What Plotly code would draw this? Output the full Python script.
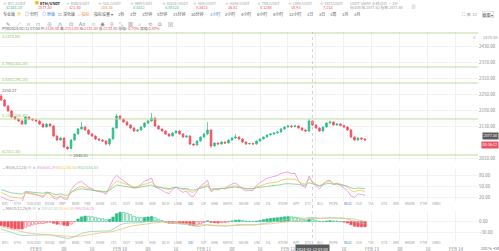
import plotly.graph_objects as go
import pandas as pd

W, H = 499, 251

# ---------------- data ----------------
start_time = "2024-02-08 14:00"
opens = [2242.5, 2227.5, 2205.0, 2186.3, 2163.8, 2156.3, 2148.8, 2137.5, 2163.8, 2156.3,
         2152.5, 2148.8, 2137.5, 2126.3, 2137.5, 2130.0, 2092.5, 2077.5, 2085.0, 2051.3,
         2045.0, 2077.5, 2100.0, 2118.8, 2126.3, 2115.0, 2100.0, 2092.5, 2081.3, 2077.5,
         2073.8, 2062.5, 2081.3, 2122.5, 2167.5, 2156.3, 2145.0, 2133.8, 2122.5, 2111.3,
         2115.0, 2126.3, 2141.3, 2148.8, 2160.0, 2130.0, 2118.8, 2111.3, 2100.0, 2092.5,
         2103.8, 2111.3, 2100.0, 2088.8, 2092.5, 2062.5, 2058.8, 2073.8, 2088.8, 2100.0,
         2115.0, 2055.0, 2066.3, 2062.5, 2070.0, 2066.3, 2077.5, 2085.0, 2088.8, 2081.3,
         2070.0, 2062.5, 2064.4, 2062.5, 2073.8, 2081.3, 2088.8, 2096.3, 2100.0, 2103.8,
         2107.5, 2118.8, 2126.3, 2130.0, 2128.1, 2130.0, 2122.5, 2115.0, 2111.3, 2148.8,
         2133.8, 2122.5, 2111.3, 2126.3, 2141.3, 2145.0, 2133.8, 2137.5, 2131.9, 2126.3,
         2115.0, 2088.8, 2077.5, 2085.0, 2081.3]
closes = [2227.5, 2205.0, 2186.3, 2163.8, 2156.3, 2148.8, 2137.5, 2163.8, 2156.3, 2152.5,
          2148.8, 2137.5, 2126.3, 2137.5, 2130.0, 2092.5, 2077.5, 2085.0, 2051.3, 2045.0,
          2077.5, 2100.0, 2118.8, 2126.3, 2115.0, 2100.0, 2092.5, 2081.3, 2077.5, 2073.8,
          2062.5, 2081.3, 2122.5, 2167.5, 2156.3, 2145.0, 2133.8, 2122.5, 2111.3, 2115.0,
          2126.3, 2141.3, 2148.8, 2160.0, 2130.0, 2118.8, 2111.3, 2100.0, 2092.5, 2103.8,
          2111.3, 2100.0, 2088.8, 2092.5, 2062.5, 2058.8, 2073.8, 2088.8, 2100.0, 2115.0,
          2055.0, 2066.3, 2062.5, 2070.0, 2066.3, 2077.5, 2085.0, 2088.8, 2081.3, 2070.0,
          2062.5, 2064.4, 2062.5, 2073.8, 2081.3, 2088.8, 2096.3, 2100.0, 2103.8, 2107.5,
          2118.8, 2126.3, 2130.0, 2128.1, 2130.0, 2122.5, 2115.0, 2111.3, 2148.8, 2133.8,
          2122.5, 2111.3, 2126.3, 2141.3, 2145.0, 2133.8, 2137.5, 2131.9, 2126.3, 2115.0,
          2088.8, 2077.5, 2085.0, 2081.3, 2077.5]
highs = [2250.27, 2230, 2208, 2189, 2168, 2160, 2152, 2167, 2166, 2159,
         2155, 2151, 2140, 2141, 2140, 2133, 2095, 2089, 2087, 2054,
         2080, 2103, 2122, 2145, 2129, 2118, 2103, 2095, 2084, 2080,
         2076, 2084, 2125, 2175, 2170, 2159, 2148, 2136, 2125, 2118,
         2129, 2144, 2152, 2178.8, 2163, 2133, 2121, 2114, 2103, 2107,
         2114, 2114, 2103, 2096, 2095, 2065, 2076, 2091, 2103, 2145,
         2118, 2069, 2069, 2073, 2072, 2080, 2088, 2100, 2091, 2084,
         2073, 2067, 2067, 2076, 2084, 2091, 2099, 2103, 2107, 2110,
         2122, 2129, 2133, 2133, 2134, 2133, 2125, 2118, 2156.3, 2151,
         2136, 2125, 2129, 2144, 2150, 2147, 2140, 2140, 2134, 2129,
         2118, 2091, 2088, 2088, 2084]
lows = [2224, 2202, 2183, 2160, 2152, 2145, 2134, 2135, 2153, 2150,
        2146, 2134, 2123, 2124, 2127, 2089, 2073, 2075, 2048, 2040.01,
        2043, 2075, 2097, 2116, 2112, 2097, 2089, 2078, 2074, 2070,
        2058, 2055, 2079, 2120, 2153, 2142, 2131, 2119, 2108, 2108,
        2112, 2123, 2138, 2146, 2127, 2116, 2108, 2097, 2089, 2090,
        2101, 2097, 2086, 2086, 2059, 2055, 2056, 2071, 2086, 2097,
        2047.5, 2052, 2060, 2060, 2063, 2064, 2075, 2082, 2078, 2067,
        2059, 2060, 2060, 2060, 2071, 2079, 2086, 2094, 2097, 2101,
        2105, 2116, 2124, 2122, 2125, 2120, 2112, 2108, 2109, 2131,
        2120, 2108, 2109, 2124, 2139, 2131, 2131, 2129, 2123, 2112,
        2085, 2074, 2074, 2078, 2075]

level_prices = [2478.80, 2351.30, 2291.20, 2156.40, 2021.30]
level_labels = ["1(2478.80)", "0.786(2351.30)", "0.618(2291.20)", "0.236(2156.40)", "0(2021.30)"]
price_ticks = [2010, 2130, 2190, 2250, 2310, 2370, 2430]
rsi_ticks = [20, 50, 80]
tick_times = ["2024-02-09 00:00", "2024-02-09 08:00", "2024-02-09 16:00",
              "2024-02-10 00:00", "2024-02-10 08:00", "2024-02-10 16:00",
              "2024-02-11 00:00", "2024-02-11 08:00", "2024-02-11 16:00",
              "2024-02-12 00:00", "2024-02-12 08:00", "2024-02-12 16:00",
              "2024-02-13 00:00", "2024-02-13 08:00", "2024-02-13 16:00",
              "2024-02-14 00:00"]
tick_labels = ["FEB 9", "08", "16", "FEB 10", "08", "16", "FEB 11", "08", "16",
               "FEB 12", "", "16", "FEB 13", "08", "16", "FEB 14"]
crosshair_index = 89

# indicator state carried in from earlier history (before first visible candle)
prev_close = 2252.0
rsi_seed = {6: (3.0, 6.0), 12: (3.5, 5.0), 24: (4.0, 4.8)}
ema12_seed, ema26_seed, dea_seed = 2262.0, 2282.0, -14.0

tab_names = ["BTCUSDT", "ETHUSDT", "BNBUSDT", "SOLUSDT", "XRPUSDT", "DOGEUSDT",
             "ADAUSDT", "AVAXUSDT", "TRXUSDT", "LINKUSDT", "DOTUSDT"]
tab_prices = ["42351.20", "2077.50", "321.40", "104.35", "0.5312", "0.08125",
              "0.5423", "36.82", "0.1268", "18.93", "7.215"]
tab_colors = ["#2ebd85", "#f6465d", "#f6465d", "#f08c2e", "#2ebd85", "#2ebd85",
              "#f6465d", "#f6465d", "#f6465d", "#f6465d", "#f6465d"]
periods = ["1秒", "1分", "3分钟", "5分钟", "15分钟", "30分钟", "1小时", "2小时",
           "4小时", "6小时", "8小时", "12小时", "1日", "3日", "1周", "1月", "3月"]
coins = ["BTC", "ETH", "SOLUSD", "DOGE", "XRP", "BNB", "TRX", "AVAX", "LTC", "DOT",
         "SHIB", "ADA", "BCH", "LINK", "SEI", "OP", "ARB", "MATIC", "NEAR", "UNI",
         "FIL", "ATOM", "APT", "ETC", "INJ", "PEPE", "WLD", "SUI", "TIA", "STX",
         "IMX", "RNDR", "FTM", "ORDI"]

# ---------------- indicators ----------------
times = pd.date_range(start_time, periods=len(closes), freq="h")

def rsi(vals, n, g, l, prev):
    out = []
    for v in vals:
        d = v - prev
        prev = v
        g = (g * (n - 1) + max(d, 0)) / n
        l = (l * (n - 1) + max(-d, 0)) / n
        out.append(100 * g / (g + l))
    return out

def ema(vals, n, e):
    a = 2 / (n + 1)
    out = []
    for v in vals:
        e = e + a * (v - e)
        out.append(e)
    return out

rsi6 = rsi(closes, 6, *rsi_seed[6], prev_close)
rsi12 = rsi(closes, 12, *rsi_seed[12], prev_close)
rsi24 = rsi(closes, 24, *rsi_seed[24], prev_close)
e12 = ema(closes, 12, ema12_seed)
e26 = ema(closes, 26, ema26_seed)
dif = [a - b for a, b in zip(e12, e26)]
dea = ema(dif, 9, dea_seed)
hist = [2 * (a - b) for a, b in zip(dif, dea)]

UP, DN = "#2ebd85", "#f0515f"
fill_c, line_c = [], []
for i, h in enumerate(hist):
    prevh = hist[i - 1] if i > 0 else 0
    col = UP if h >= 0 else DN
    line_c.append(col)
    if (h >= 0 and h >= prevh) or (h < 0 and h <= prevh):
        fill_c.append(col)
    else:
        fill_c.append("rgba(255,255,255,1)")

# ---------------- figure ----------------
fig = go.Figure()
fig.add_trace(go.Candlestick(
    x=times, open=opens, high=highs, low=lows, close=closes,
    increasing=dict(line=dict(color=UP, width=0.7), fillcolor=UP),
    decreasing=dict(line=dict(color=DN, width=0.7), fillcolor=DN),
    xaxis="x", yaxis="y", hoverinfo="skip"))

RSI_C = ["#e58fd8", "#f2c14e", "#7cc99b"]
for vals, c in zip([rsi6, rsi12, rsi24], RSI_C):
    fig.add_trace(go.Scatter(x=times, y=vals, mode="lines", line=dict(color=c, width=0.8),
                             xaxis="x", yaxis="y2", hoverinfo="skip"))

fig.add_trace(go.Bar(x=times, y=hist, marker=dict(color=fill_c, line=dict(color=line_c, width=0.6)),
                     width=0.7 * 3600 * 1000, xaxis="x", yaxis="y3", hoverinfo="skip"))
DIF_C, DEA_C = "#8fd3bf", "#efc27a"
fig.add_trace(go.Scatter(x=times, y=dif, mode="lines", line=dict(color=DIF_C, width=0.8),
                         xaxis="x", yaxis="y3", hoverinfo="skip"))
fig.add_trace(go.Scatter(x=times, y=dea, mode="lines", line=dict(color=DEA_C, width=0.8),
                         xaxis="x", yaxis="y3", hoverinfo="skip"))

def py(y):
    return 1 - y / H

t0 = times[0]
xr = [t0 - pd.Timedelta(hours=0.3), t0 + pd.Timedelta(hours=136.3)]

mlo = min(min(dif), min(dea), min(hist))
mhi = max(max(dif), max(dea), max(hist))
span = max(-mlo, 1)
macd_range = [mlo - span * 0.15, max(mhi * 1.15, span * 0.35)]
step = max(10, round(span * 0.6 / 10) * 10)

axfont = dict(size=4.5, color="#8a8a8a")
fig.update_layout(
    width=W, height=H, margin=dict(l=0, r=0, t=0, b=0),
    paper_bgcolor="white", plot_bgcolor="white", showlegend=False,
    hovermode=False, bargap=0.3,
    font=dict(family="Noto Sans CJK SC, Roboto, sans-serif", size=5, color="#555"),
    xaxis=dict(domain=[0, 478 / W], range=xr, type="date", anchor="y3",
               tickvals=tick_times, ticktext=tick_labels, tickfont=axfont,
               ticklabelstandoff=4,
               showgrid=True, gridcolor="#f1f1f1", gridwidth=0.6, zeroline=False,
               showline=False, ticks="", rangeslider=dict(visible=False)),
    yaxis=dict(domain=[py(161), py(32)], range=[1998.75, 2482.5], side="right", anchor="x",
               tickvals=price_ticks, tickformat=".2f", tickfont=axfont,
               gridcolor="#f3f3f3", gridwidth=0.6, zeroline=False, showline=False, ticks=""),
    yaxis2=dict(domain=[py(201), py(169)], range=[9.1, 96.4], side="right", anchor="x",
                tickvals=rsi_ticks, tickformat=".2f", tickfont=axfont,
                gridcolor="#f3f3f3", gridwidth=0.6, zeroline=False, showline=False, ticks=""),
    yaxis3=dict(domain=[py(241), py(211)], range=macd_range, side="right", anchor="x",
                tickvals=[0, -step], tickformat=".2f", tickfont=axfont,
                gridcolor="#f3f3f3", gridwidth=0.6, zeroline=False, showline=False, ticks=""),
)

shapes = []
for p in level_prices:
    shapes.append(dict(type="line", xref="paper", x0=0, x1=478 / W, yref="y", y0=p, y1=p,
                       line=dict(color="#bcdc9f", width=1)))
ct = times[crosshair_index]
shapes.append(dict(type="line", xref="x", x0=ct, x1=ct, yref="paper", y0=py(244), y1=py(32),
                   line=dict(color="#b5b5b5", width=0.6, dash="dot")))
fig.update_layout(shapes=shapes)

ann = []
def txt(x, y, s, size=4.5, color="#777", anchor="left", **kw):
    ann.append(dict(x=x / W, y=py(y), xref="paper", yref="paper", text=s, showarrow=False,
                    xanchor=anchor, yanchor="middle", font=dict(size=size, color=color),
                    borderpad=0, **kw))

def tw(s, size):
    return sum(size if ord(ch) > 0x2E80 else size * 0.58 for ch in s)

# ticker tabs
for i, (n, p, c) in enumerate(zip(tab_names, tab_prices, tab_colors)):
    x = 2 + 31.7 * i
    if i == 1:
        txt(x, 3.5, "<span style='color:#f0b90b'>●</span> <b>ETH/USDT</b>", 4, "#222")
    else:
        txt(x, 3.5, "☆ " + n[:-4] + "/USDT", 3.8, "#a0a0a0")
    txt(x + 3, 8, p, 3.8, c)
txt(349, 3.5, "USDT-SWAP 永续合约 · 1H", 3.8, "#a0a0a0")
txt(349, 8, "标记价格 2077.62 指数 2077.48", 3.8, "#a0a0a0")
txt(410, 5.5, "⊗", 5, "#b0b0b0")

# toolbar
FS = 4
tool = [(2, "专业版", "#555"), (16, "▣", "#f0b90b"), (24, "◎ 分时", "#555"),
        (41, "◎ 原版", "#3a7bd5"), (57, "☐ 深色版", "#555"), (76, "☼ 指标", "#f08c2e"),
        (93, "指标设置 ▾", "#555")]
for x, s, c in tool:
    txt(x, 14.5, s, FS, c)
x = 117
for s in periods:
    txt(x, 14.5, s, FS, "#3a7bd5" if s == "1小时" else "#555")
    x += tw(s, FS) + 5.5
txt(461, 14.5, "⛶  ⚙  ☐", 4.4, "#777")
txt(482, 14.5, "截图 ▾", 4, "#555", bordercolor="#ccc", borderwidth=0.5)

# drawing tools
icons = ["✎", "∕", "≡", "⊓", "⊕", "⋀", "⊡", "Aa", "☺", "☀", "⚲", "⤡", "▦", "⌂", "⟲", "⧉", "⊠"]
ix = [5, 15, 25, 35, 46, 56, 68, 78, 90, 99, 109, 118, 127, 137, 147, 157, 167]
for xx, s in zip(ix, icons):
    txt(xx, 23, s, 5, "#8a8a8a")

# OHLC info of crosshair candle
k = crosshair_index
chg = (closes[k] - closes[k - 1]) / closes[k - 1] * 100
amp = (highs[k] - lows[k]) / closes[k - 1] * 100
vc = "#f0515f" if closes[k] < opens[k] else "#2ebd85"
info = (f"时间{times[k]:%Y/%m/%d %H:%M} 开:<span style='color:{vc}'>{opens[k]:.2f}</span> "
        f"高:<span style='color:{vc}'>{highs[k]:.2f}</span> 低:<span style='color:{vc}'>{lows[k]:.2f}</span> "
        f"收:<span style='color:{vc}'>{closes[k]:.2f}</span> 涨幅:<span style='color:{vc}'>{chg:.2f}%</span> "
        f"振幅:<span style='color:{vc}'>{amp:.2f}%</span>")
txt(1, 28.5, info, 3.8, "#666")

# level labels (top one sits under its line)
for j, (p, s) in enumerate(zip(level_prices, level_labels)):
    ann.append(dict(x=0.002, y=p, xref="paper", yref="y", text=s, showarrow=False,
                    xanchor="left", yanchor="top" if j == 0 else "bottom",
                    font=dict(size=3.8, color="#8cc26a"), borderpad=0))
ann.append(dict(x=1, y=level_prices[0], xref="paper", yref="y", text="%.2f" % level_prices[0],
                showarrow=False, xanchor="right", yanchor="top", font=dict(size=4, color="#999"),
                borderpad=0))
ann.append(dict(x=474 / W, y=level_prices[0], xref="paper", yref="y", text="×", showarrow=False,
                xanchor="center", yanchor="top", font=dict(size=4.5, color="#aaa"), borderpad=0))

# high / low markers
ann.append(dict(x=times[0], y=max(highs), xref="x", yref="y", text="%.2f" % max(highs),
                showarrow=False, xanchor="left", yanchor="bottom", font=dict(size=4, color="#666"),
                borderpad=0))
lo_i = lows.index(min(lows))
ann.append(dict(x=times[lo_i], y=min(lows), xref="x", yref="y", text="— %.2f" % min(lows),
                showarrow=False, xanchor="left", yanchor="top", font=dict(size=4, color="#666"),
                borderpad=0, yshift=-1))

# last price tag
ann.append(dict(x=1, y=closes[-1], xref="paper", yref="y", text="%.2f" % closes[-1],
                showarrow=False, xanchor="right", yanchor="bottom", font=dict(size=3.8, color="white"),
                bgcolor="#5b5b5b", borderpad=0.4))
ann.append(dict(x=1, y=closes[-1], xref="paper", yref="y", text="00:36:12", yshift=-0.5,
                showarrow=False, xanchor="right", yanchor="top", font=dict(size=3.8, color="white"),
                bgcolor=DN, borderpad=0.4))

# RSI legend
txt(1, 167, f"⌄ RSI(6,12,24) ⊙ × <span style='color:{RSI_C[0]}'>RSI6:{rsi6[k]:.2f}</span> "
            f"<span style='color:{RSI_C[1]}'>RSI12:{rsi12[k]:.2f}</span> "
            f"<span style='color:{RSI_C[2]}'>RSI24:{rsi24[k]:.2f}</span>", 3.8, "#888")
# MACD legend
txt(1, 208, f"⌄ MACD(12,26,9) ⊙ × <span style='color:{DIF_C}'>DIF:{dif[k]:.2f}</span> "
            f"<span style='color:{DEA_C}'>DEA:{dea[k]:.2f}</span> "
            f"<span style='color:#e58fd8'>MACD:{hist[k]:.2f}</span>", 3.8, "#888")

# scrolling coin rows
for yy in (203.5, 242.5):
    x = 1
    for j, c in enumerate(coins):
        if x > 468:
            break
        txt(x, yy, c, 3.6, "#3a7bd5" if j in (14, 26) else "#9a9a9a")
        x += tw(c, 3.6) + 6

# crosshair time tag
ann.append(dict(x=ct, y=py(248), xref="x", yref="paper", text=f"{ct:%Y-%m-%d %H:%M}",
                showarrow=False, xanchor="center", yanchor="middle",
                font=dict(size=4, color="white"), bgcolor="#5b5b5b", borderpad=0.6))
txt(480, 248, "100 % ⟲ ⚙", 3.8, "#777")

fig.update_layout(annotations=ann)
fig.write_html("out.html")
